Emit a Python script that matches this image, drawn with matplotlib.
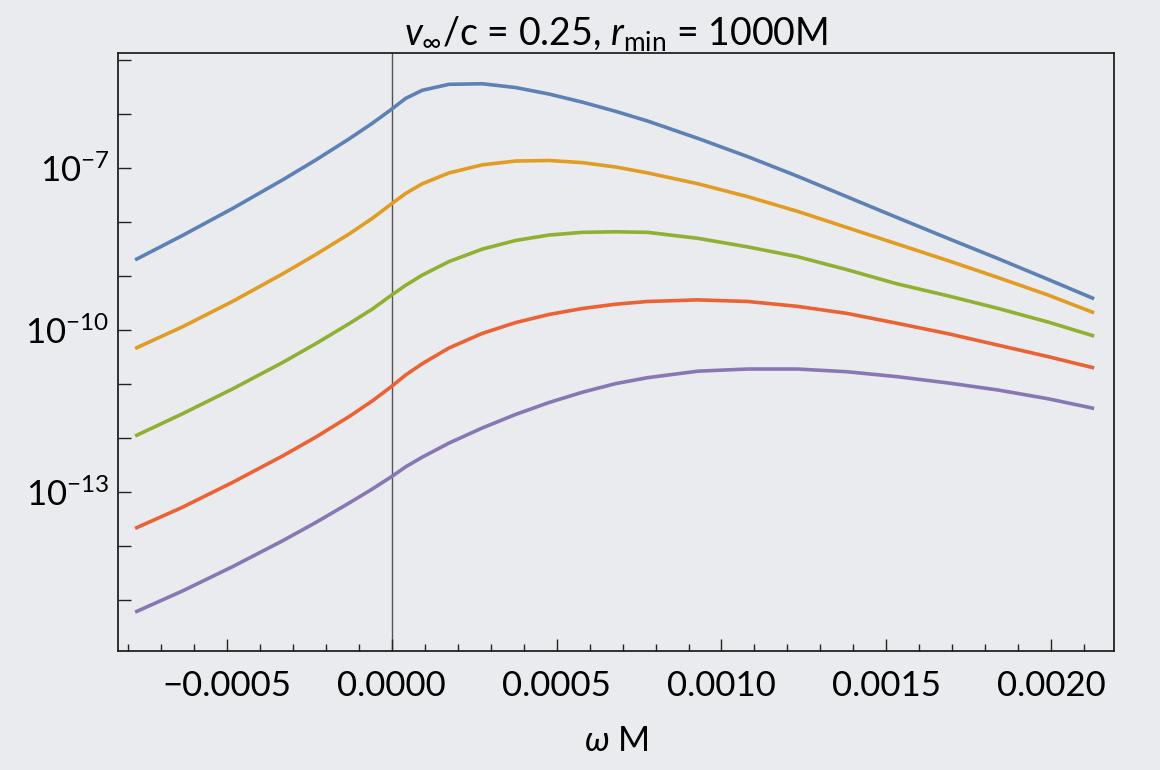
import matplotlib
matplotlib.use("Agg")
import matplotlib.pyplot as plt
import numpy as np
from matplotlib.ticker import FixedLocator, MultipleLocator, FuncFormatter, NullFormatter

# omega*M sample positions (shared by all curves)
x_om = [-0.000778, -0.000635, -0.000483, -0.000331, -0.000230, -0.000129, -0.0000586,
        0.0, 0.0000424, 0.0000930, 0.000174, 0.000275, 0.000376, 0.000477, 0.000578,
        0.000679, 0.000776, 0.000928, 0.00108, 0.00123, 0.00138, 0.00153, 0.00169,
        0.00184, 0.00199, 0.00213]

# log10 of the plotted quantity for each curve
lg_blue = [-8.70, -8.25, -7.75, -7.22, -6.85, -6.46, -6.17,
           -5.91, -5.71, -5.56, -5.45, -5.44, -5.51, -5.63, -5.78,
           -5.95, -6.13, -6.45, -6.79, -7.15, -7.53, -7.91, -8.31,
           -8.68, -9.06, -9.42]
lg_orange = [-10.34, -9.94, -9.47, -8.96, -8.60, -8.22, -7.93,
             -7.66, -7.47, -7.29, -7.09, -6.94, -6.87, -6.86, -6.90,
             -6.98, -7.09, -7.29, -7.53, -7.80, -8.10, -8.40, -8.72,
             -9.03, -9.35, -9.68]
lg_green = [-11.96, -11.55, -11.09, -10.60, -10.25, -9.88, -9.61,
            -9.35, -9.17, -8.98, -8.73, -8.50, -8.34, -8.24, -8.19,
            -8.18, -8.19, -8.30, -8.46, -8.64, -8.88, -9.14, -9.37,
            -9.60, -9.85, -10.11]
lg_red = [-13.67, -13.28, -12.82, -12.33, -11.98, -11.60, -11.31,
          -11.04, -10.83, -10.62, -10.33, -10.06, -9.86, -9.71, -9.60,
          -9.52, -9.47, -9.44, -9.47, -9.56, -9.69, -9.87, -10.07,
          -10.28, -10.49, -10.70]
lg_purple = [-15.22, -14.83, -14.38, -13.90, -13.56, -13.20, -12.94,
             -12.71, -12.53, -12.35, -12.09, -11.81, -11.56, -11.34, -11.15,
             -10.99, -10.88, -10.76, -10.72, -10.72, -10.77, -10.86, -10.98,
             -11.11, -11.27, -11.45]

y_major = [1e-13, 1e-10, 1e-7]
y_minor = [1e-15, 1e-14, 1e-12, 1e-11, 1e-9, 1e-8, 1e-6, 1e-5]

bg = "#e9ebef"
plt.rcParams["font.family"] = ["Lato", "DejaVu Sans"]
plt.rcParams["mathtext.fontset"] = "custom"
plt.rcParams["mathtext.rm"] = "Lato"
plt.rcParams["mathtext.it"] = "Lato:italic"

fig = plt.figure(figsize=(11.6, 7.7), dpi=100, facecolor=bg)
ax = fig.add_axes([0.1017, 0.1545, 0.8586, 0.7767], facecolor=bg)

series = [(lg_blue, "#5e81b5"),
          (lg_orange, "#e19c24"),
          (lg_green, "#8fb032"),
          (lg_red, "#eb6235"),
          (lg_purple, "#8778b3")]
for lg, c in series:
    ax.plot(x_om, 10 ** np.array(lg), color=c, lw=2.6, solid_capstyle="butt",
            solid_joinstyle="round")

ax.axvline(0, color="#555555", lw=1.0, zorder=0)

ax.set_yscale("log")
ax.set_xlim(-0.00083, 0.00219)
ax.set_ylim(10 ** -15.94, 10 ** -4.87)

ax.yaxis.set_major_locator(FixedLocator(y_major))
ax.yaxis.set_minor_locator(FixedLocator(y_minor))
ax.yaxis.set_minor_formatter(NullFormatter())
ax.yaxis.set_major_formatter(FuncFormatter(lambda v, p: r"$10^{%d}$" % round(np.log10(v))))

ax.xaxis.set_major_locator(MultipleLocator(0.0005))
ax.xaxis.set_minor_locator(MultipleLocator(0.0001))
ax.xaxis.set_major_formatter(FuncFormatter(lambda v, p: f"{v:.4f}".replace("-", "\u2212")
                                           if abs(v) > 1e-12 else "0.0000"))

ax.tick_params(which="both", direction="in", top=False, right=False, color="#222222",
               labelsize=25, width=1.0)
ax.tick_params(axis="y", which="both", length=9, pad=6)
ax.tick_params(axis="x", which="major", length=9, pad=14)
ax.tick_params(axis="x", which="minor", length=5)
for s in ax.spines.values():
    s.set_color("#222222")
    s.set_linewidth(1.3)

ax.set_title(r"$v_{\infty}$/c = 0.25, $r_{\mathrm{min}}$ = 1000M", fontsize=27, pad=4)
ax.set_xlabel(r"$\omega$ M", fontsize=25, labelpad=16)

fig.savefig("out.png", dpi=100, facecolor=bg)
